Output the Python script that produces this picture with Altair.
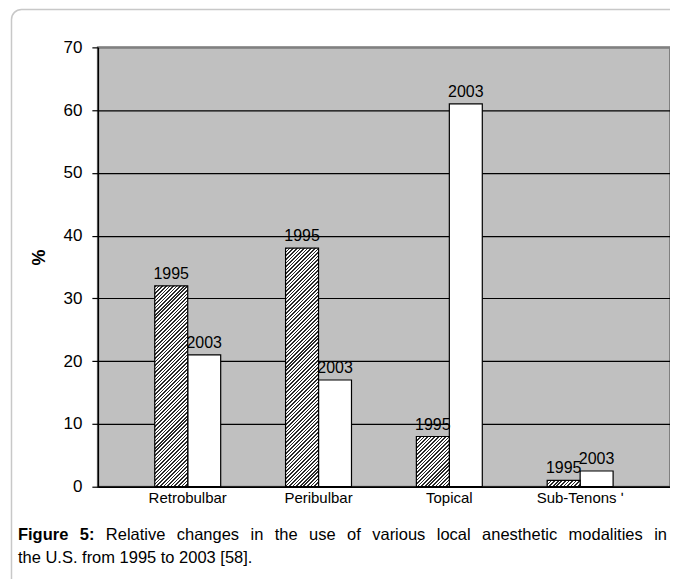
import altair as alt
import pandas as pd

categories = ["Retrobulbar", "Peribulbar", "Topical", "Sub-Tenons'"]
years = ["1995", "2003"]
values_1995 = [32, 38, 8, 1]
values_2003 = [21, 17, 61, 2.5]
y_ticks = [0, 10, 20, 30, 40, 50, 60, 70]
y_title = "%"
caption_bold_words = ["Figure", "5:"]
caption_line1_words = ["Relative", "changes", "in", "the", "use", "of", "various",
                       "local", "anesthetic", "modalities", "in"]
caption_line2 = "the U.S. from 1995 to 2003 [58]."

rows = []
for c, v in zip(categories, values_1995):
    rows.append({"cat": c, "year": "1995", "value": v})
for c, v in zip(categories, values_2003):
    rows.append({"cat": c, "year": "2003", "value": v})
df = pd.DataFrame(rows)

W, H = 573, 440
YMAX = 70
P_IN, P_OUT = 0.496, 0.435
FONT = "Liberation Sans, Arial, sans-serif"
CAP_SIZE = 16.5

step = W / (len(categories) - P_IN + 2 * P_OUT)
bar_w = step * (1 - P_IN) / len(years)
px_per_unit = H / YMAX

# Arial / Liberation Sans advance widths (per 1000 em) for justified caption layout
REG = {"a": 556, "c": 500, "d": 556, "e": 556, "f": 278, "g": 556, "h": 556, "i": 222,
       "l": 222, "m": 833, "n": 556, "o": 556, "r": 333, "s": 500, "t": 278, "u": 556,
       "v": 500, "R": 722, " ": 278}
BOLD = {"F": 611, "i": 278, "g": 611, "u": 611, "r": 389, "e": 556, "5": 556, ":": 333,
        " ": 278}


def text_w(s, table):
    return sum(table.get(ch, 556) for ch in s) * CAP_SIZE / 1000.0


CAP_LEFT = -80          # relative to plot origin
CAP_RIGHT = W - 3       # justified right edge
words = [(w, "bold") for w in caption_bold_words] + [(w, "normal") for w in caption_line1_words]
natural = sum(text_w(w, BOLD if wt == "bold" else REG) for w, wt in words)
gap = (CAP_RIGHT - CAP_LEFT - natural) / (len(words) - 1)
cap_rows = []
xpos = CAP_LEFT
for w, wt in words:
    cap_rows.append({"word": w, "weight": wt, "px": xpos})
    xpos += text_w(w, BOLD if wt == "bold" else REG) + gap


def hatch(h_px, w_px, period=3.6, dark=0.45):
    L = w_px + h_px
    k = L / (w_px ** 2 + h_px ** 2)
    p = period / L
    stops = []
    i = 0
    while i * p < 1:
        a = i * p
        b = min(a + dark * p, 1.0)
        c = min(a + p, 1.0)
        stops += [
            alt.GradientStop(offset=a, color="#2a2a2a"),
            alt.GradientStop(offset=b, color="#2a2a2a"),
            alt.GradientStop(offset=b, color="#ffffff"),
            alt.GradientStop(offset=c, color="#ffffff"),
        ]
        i += 1
    return alt.LinearGradient(gradient="linear", stops=stops,
                              x1=0, y1=0, x2=k * w_px, y2=k * h_px)


label_expr = ("datum.value == \"Sub-Tenons'\" ? "
              "'\u00a0\u00a0\u00a0\u00a0\u00a0Sub-Tenons\u00a0\u02b9' : datum.value")

x_enc = alt.X("cat:N",
              scale=alt.Scale(domain=categories, paddingInner=P_IN, paddingOuter=P_OUT),
              axis=alt.Axis(title=None, labelAngle=0, ticks=False, labelPadding=4,
                            labelFontSize=15, labelFont=FONT, labelColor="black",
                            labelExpr=label_expr,
                            domainColor="black", domainWidth=1.5, grid=False))
xo_enc = alt.XOffset("year:N", scale=alt.Scale(domain=years))
y_enc = alt.Y("value:Q",
              scale=alt.Scale(domain=[0, YMAX], nice=False),
              axis=alt.Axis(title=y_title, values=y_ticks, tickSize=6, tickColor="black",
                            tickWidth=1.2, labelPadding=10, labelFontSize=17,
                            labelFont=FONT, labelColor="black",
                            domainColor="black", domainWidth=1.5,
                            grid=True,
                            gridColor={"condition": {"test": "datum.value === 70", "value": "#808080"},
                                       "value": "#000000"},
                            gridWidth={"condition": {"test": "datum.value === 70", "value": 2},
                                       "value": 1.2},
                            titleFont=FONT, titleFontSize=18, titleFontWeight="bold",
                            titleColor="black", titleAngle=270, titleX=-58, titleY=210,
                            titleAlign="center", titleBaseline="middle"))

one = alt.Data(values=[{"k": 0}])

frame = alt.Chart(one).mark_rect(fillOpacity=0, stroke="#c8c8c8", strokeWidth=1.5,
                                 cornerRadius=10).encode(
    x=alt.value(-86.5), x2=alt.value(720), y=alt.value(-38), y2=alt.value(720))

bars03 = alt.Chart(df).transform_filter(alt.datum.year == "2003").mark_bar(
    fill="white", stroke="black", strokeWidth=1.2).encode(
    x=x_enc, xOffset=xo_enc, y=y_enc)

hatch_layers = []
for c, v in zip(categories, values_1995):
    g = hatch(v * px_per_unit, bar_w)
    hatch_layers.append(
        alt.Chart(df).transform_filter(
            (alt.datum.year == "1995") & (alt.datum.cat == c)
        ).mark_bar(color=g, stroke="black", strokeWidth=1.2).encode(
            x=x_enc, xOffset=xo_enc, y=y_enc))

labels = alt.Chart(df).mark_text(dy=-12, baseline="middle", fontSize=16, font=FONT,
                                 color="black").encode(
    x=x_enc, xOffset=xo_enc, y=y_enc, text="year:N")

cap_data = alt.Data(values=cap_rows)
cap_bold = alt.Chart(cap_data).transform_filter(alt.datum.weight == "bold").mark_text(
    align="left", baseline="middle", fontSize=CAP_SIZE, font=FONT, fontWeight="bold",
    color="black").encode(
    x=alt.X("px:Q", scale=None), y=alt.value(488), text="word:N")
cap_reg = alt.Chart(cap_data).transform_filter(alt.datum.weight == "normal").mark_text(
    align="left", baseline="middle", fontSize=CAP_SIZE, font=FONT,
    color="black").encode(
    x=alt.X("px:Q", scale=None), y=alt.value(488), text="word:N")
cap_2 = alt.Chart(one).mark_text(align="left", baseline="middle", fontSize=CAP_SIZE,
                                 font=FONT, color="black").encode(
    x=alt.value(CAP_LEFT), y=alt.value(511), text=alt.value(caption_line2))

chart = alt.layer(frame, bars03, *hatch_layers, labels, cap_bold, cap_reg, cap_2).properties(
    width=W, height=H,
    padding={"left": 90, "top": 39, "right": 0, "bottom": 92},
    autosize=alt.AutoSizeParams(type="none"),
    background="white",
).configure_view(fill="#c0c0c0", stroke="#808080", strokeWidth=2)

chart.save("out.html", embed_options={"renderer": "svg", "actions": False})
